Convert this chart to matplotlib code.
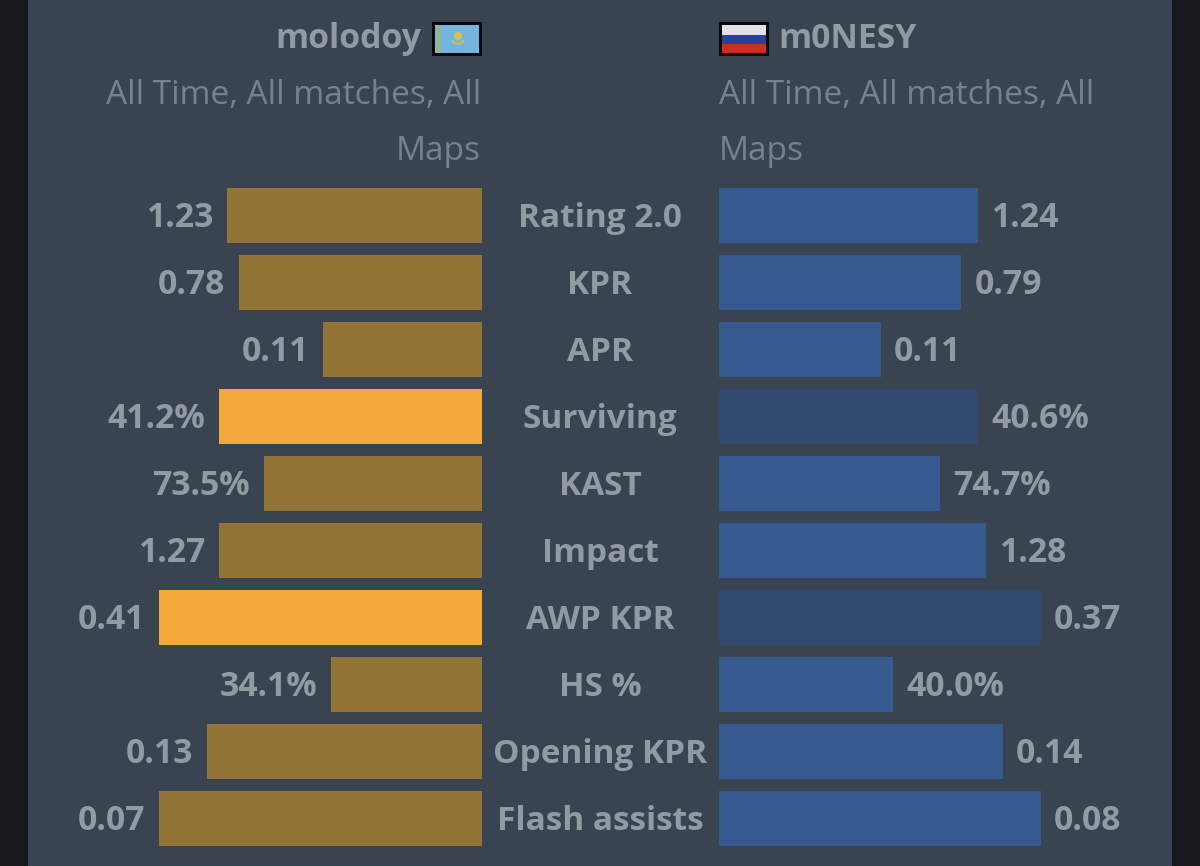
import matplotlib
matplotlib.use('Agg')
from matplotlib import pyplot as plt
from matplotlib.patches import Rectangle, Circle, Wedge

plt.rcParams['font.family'] = ['Open Sans', 'DejaVu Sans']

# stats from the comparison table
categories = ['Rating 2.0', 'KPR', 'APR', 'Surviving', 'KAST', 'Impact',
              'AWP KPR', 'HS %', 'Opening KPR', 'Flash assists']
left_labels = ['1.23', '0.78', '0.11', '41.2%', '73.5%', '1.27', '0.41', '34.1%', '0.13', '0.07']
right_labels = ['1.24', '0.79', '0.11', '40.6%', '74.7%', '1.28', '0.37', '40.0%', '0.14', '0.08']
# bar length as % of the longest bar
left_bars = [79.0, 75.2, 49.2, 81.4, 67.5, 81.4, 100.0, 46.7, 85.1, 100.0]
right_bars = [80.4, 75.2, 50.3, 80.4, 68.6, 82.9, 100.0, 54.0, 88.2, 100.0]
left_highlight = [3, 6]
right_dim = [3, 6]

W, H = 1200, 866
BG = '#161a1f'
PANEL = '#3a4450'
GOLD = '#937437'
GOLD_HI = '#f3a93c'
BLUE = '#36598f'
BLUE_DIM = '#30496d'
VALUE = '#929aa2'
SUB = '#78828c'

fig = plt.figure(figsize=(12, 8.66), dpi=100, facecolor=BG)

def px_axes(x0, y0, x1, y1):
    # axes placed with pixel coords, y measured from the top
    return fig.add_axes([x0 / W, 1 - y1 / H, (x1 - x0) / W, (y1 - y0) / H])

panel = px_axes(0, 0, W, H)
panel.set_xlim(0, W)
panel.set_ylim(H, 0)
panel.axis('off')
panel.add_patch(Rectangle((28, 0), 1144, H, color=PANEL, lw=0))

ax_l = px_axes(159, 182, 482, 852)
ax_r = px_axes(719, 182, 1041, 852)
ax_l.set_xlim(100, 0)
ax_r.set_xlim(0, 100)
for ax in (ax_l, ax_r):
    ax.set_ylim(9.5, -0.5)
    ax.axis('off')

rows = range(len(categories))
l_colors = [GOLD_HI if i in left_highlight else GOLD for i in rows]
r_colors = [BLUE_DIM if i in right_dim else BLUE for i in rows]
ax_l.barh(list(rows), left_bars, height=0.835, color=l_colors)
ax_r.barh(list(rows), right_bars, height=0.835, color=r_colors)

for i in rows:
    ax_l.annotate(left_labels[i], (left_bars[i], i), xytext=(-10, -2), textcoords='offset points',
                  ha='right', va='center', fontsize=24.3, fontweight='bold', color=VALUE, annotation_clip=False)
    ax_r.annotate(right_labels[i], (right_bars[i], i), xytext=(9.5, -2), textcoords='offset points',
                  ha='left', va='center', fontsize=24.3, fontweight='bold', color=VALUE, annotation_clip=False)
    panel.text(600, 185 + 67 * (i + 0.5), categories[i], ha='center', va='center',
               fontsize=24, fontweight='bold', color=VALUE)

# headers
panel.text(421.5, 39, 'molodoy', ha='right', va='center', fontsize=24.3, fontweight='bold', color=VALUE)
panel.text(778, 39, 'm0NESY', ha='left', va='center', fontsize=24.3, fontweight='bold', color=VALUE)
panel.text(481, 96, 'All Time, All matches, All', ha='right', va='center', fontsize=24, color=SUB)
panel.text(481, 152, 'Maps', ha='right', va='center', fontsize=24, color=SUB)
panel.text(719, 96, 'All Time, All matches, All', ha='left', va='center', fontsize=24, color=SUB)
panel.text(719, 152, 'Maps', ha='left', va='center', fontsize=24, color=SUB)

# flags
panel.add_patch(Rectangle((432, 22), 50, 34, color='#05070a', lw=0))
panel.add_patch(Rectangle((435, 25), 44, 28, color='#74b4de', lw=0))
panel.add_patch(Rectangle((437, 25), 3, 28, color='#a3b468', lw=0))
panel.add_patch(Circle((458, 36), 4, color='#d8c14a', lw=0))
panel.add_patch(Wedge((458, 38), 7, 20, 160, width=2, color='#cdbb52', lw=0))

panel.add_patch(Rectangle((719, 22), 50, 34, color='#05070a', lw=0))
panel.add_patch(Rectangle((722, 25), 44, 10, color='#e2e2e2', lw=0))
panel.add_patch(Rectangle((722, 35), 44, 9, color='#27409a', lw=0))
panel.add_patch(Rectangle((722, 44), 44, 9, color='#cc3020', lw=0))

plt.savefig('out.png', dpi=100, facecolor=fig.get_facecolor())
